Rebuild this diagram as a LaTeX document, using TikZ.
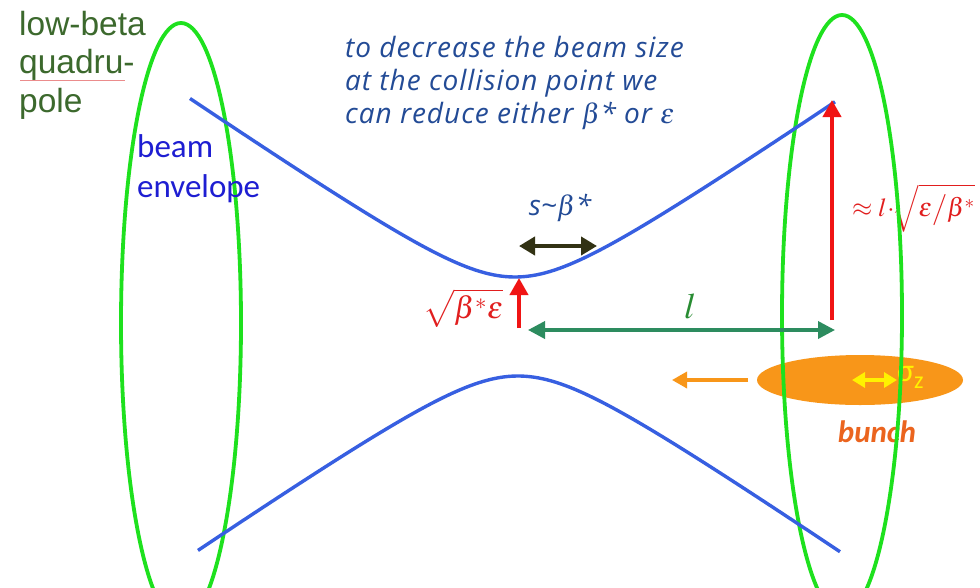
\documentclass[tikz,border=0pt]{standalone}
\usepackage{mathptmx}
\usepackage{fontspec}
\setmainfont{Liberation Serif}
\newfontfamily\arialf{Liberation Sans}
\newfontfamily\calf{Carlito}
\newfontfamily\topf{Open Sans}
\newfontfamily\topfs[LetterSpace=3.5]{Open Sans}
\usetikzlibrary{arrows.meta,shapes.geometric}
\definecolor{quadgreen}{RGB}{30,225,30}
\definecolor{envblue}{RGB}{55,95,225}
\definecolor{topblue}{RGB}{35,75,150}
\definecolor{lbgreen}{RGB}{60,105,45}
\definecolor{beamblue}{RGB}{30,30,210}
\definecolor{arrred}{RGB}{240,20,20}
\definecolor{lblred}{RGB}{225,30,30}
\definecolor{lteal}{RGB}{45,140,95}
\definecolor{lgreen}{RGB}{40,140,50}
\definecolor{darkol}{RGB}{50,50,20}
\definecolor{bunchorange}{RGB}{248,150,25}
\definecolor{bunchtext}{RGB}{235,100,30}
\definecolor{spellred}{RGB}{235,140,140}
\tikzset{
  quad/.style={draw=quadgreen, line width=3.8pt, ellipse, minimum width=120pt, minimum height=600pt, inner sep=0pt},
  envelope/.style={draw=envblue, line width=3.4pt},
  redarrow/.style={draw=arrred, line width=4pt, -{Triangle[width=18pt,length=17pt]}},
  larrow/.style={draw=lteal, line width=3.6pt, {Triangle[width=17pt,length=17pt]}-{Triangle[width=17pt,length=17pt]}},
  sarrow/.style={draw=darkol, line width=4.5pt, {Triangle[width=18pt,length=16pt]}-{Triangle[width=18pt,length=16pt]}},
  oarrow/.style={draw=bunchorange, line width=3.4pt, -{Triangle[width=16pt,length=15pt]}},
  yarrow/.style={draw=yellow, line width=3.4pt, {Triangle[width=15pt,length=13pt]}-{Triangle[width=15pt,length=13pt]}},
  txt/.style={inner sep=0pt, anchor=base west}
}
\begin{document}
\begin{tikzpicture}[x=1pt,y=-1pt]
\useasboundingbox (0,0) rectangle (980,587);
\clip (0,0) rectangle (980,587);
\fill[white] (0,0) rectangle (980,587);

% bunch
\node (bunch) [ellipse, fill=bunchorange, minimum width=206pt, minimum height=50pt, inner sep=0pt] at (860,380) {};
\coordinate (ya1) at (852,380);
\coordinate (ya2) at (897,380);
\draw[yarrow] (ya1) -- (ya2);
\node (sigz) [inner sep=0pt, anchor=west, text=yellow, font=\calf\fontsize{32}{32}\selectfont] at (897,377) {σ\raisebox{-7pt}{\fontsize{24}{24}\selectfont z}};
\node (bunchlbl) [inner sep=0pt, text=bunchtext, font=\calf\bfseries\itshape\fontsize{31}{31}\selectfont] at (877,432) {bunch};

% red label on the right
\node (approxlbl) [inner sep=0pt, anchor=west, text=lblred, font=\fontsize{26}{26}\selectfont] at (852,208) {$\approx l\!\cdot\!\!\sqrt{\varepsilon\big/\beta^{*}}$};

% quadrupoles
\node (quadL) [quad] at (181,323) {};
\node (quadR) [quad] at (842,315) {};

% beam envelope
\draw[envelope] plot[domain=190:835, samples=150] (\x, {326-100*sqrt(0.49*0.49+(0.00683*(\x-515))^2)});
\draw[envelope] plot[domain=198:840, samples=150] (\x, {326+100*sqrt(0.50*0.50+(0.00683*(\x-518))^2)});

% small red arrow at the IP
\coordinate (ipbase) at (519,328);
\coordinate (ipmin) at (519,278);
\draw[redarrow] (ipbase) -- (ipmin);
\node (sqrtlbl) [inner sep=0pt, anchor=west, text=lblred, font=\fontsize{31}{31}\selectfont] at (423,308) {$\sqrt{\beta^{*}\varepsilon}$};

% distance l
\coordinate (la) at (528,330);
\coordinate (lb) at (835,330);
\draw[larrow] (la) -- (lb);
\node (llbl) [inner sep=0pt, anchor=base, text=lgreen, font=\fontsize{36}{36}\selectfont] at (690,318) {$l$};

% long red arrow
\coordinate (rbase) at (832,320);
\coordinate (rtop) at (832,100);
\draw[redarrow] (rbase) -- (rtop);

% s ~ beta*
\coordinate (sa) at (519,246);
\coordinate (sb) at (597,246);
\draw[sarrow] (sa) -- (sb);
\node (slbl) [inner sep=0pt, text=topblue, font=\topf\itshape\fontsize{28}{28}\selectfont] at (560,208) {s\textasciitilde$\beta$*};

% orange motion arrow
\coordinate (oa1) at (748,380);
\coordinate (oa2) at (672,380);
\draw[oarrow] (oa1) -- (oa2);

% texts
\node (lb1) [txt, text=lbgreen, font=\arialf\fontsize{33.5}{33.5}\selectfont] at (19,35) {low-beta};
\node (lb2) [txt, text=lbgreen, font=\arialf\fontsize{33.5}{33.5}\selectfont] at (19,73.5) {quadru-};
\node (lb3) [txt, text=lbgreen, font=\arialf\fontsize{33.5}{33.5}\selectfont] at (19,112) {pole};
\draw[spellred, line width=0.8pt] (20,80) -- (125,80);

\node (be1) [txt, text=beamblue, font=\calf\fontsize{33}{33}\selectfont] at (137,157) {beam};
\node (be2) [txt, text=beamblue, font=\calf\fontsize{33}{33}\selectfont] at (137,197) {envelope};

\node (toptxt) [inner sep=0pt, anchor=north west, align=left, text=topblue, font=\topfs\itshape\fontsize{28}{33}\selectfont] at (345,36) {to decrease the beam size\\at the collision point we\\can reduce either $\beta$* or $\varepsilon$};
\end{tikzpicture}
\end{document}
